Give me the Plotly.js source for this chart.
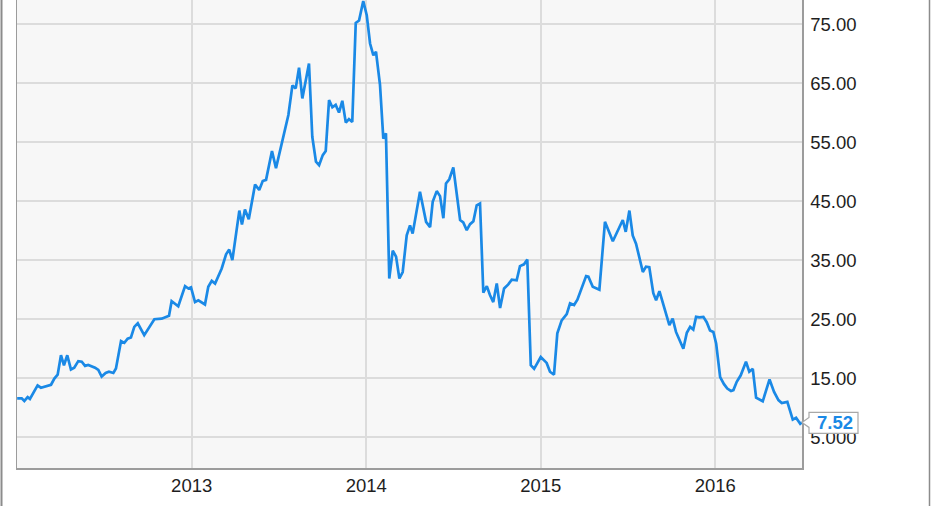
<!DOCTYPE html>
<html>
<head>
<meta charset="utf-8">
<script src="https://cdn.plot.ly/plotly-3.0.1.min.js"></script>
<style>html,body{margin:0;padding:0;background:#fff;}#chart{width:931px;height:506px;}</style>
</head>
<body>
<div id="chart"></div>
<script>
// Dates as decimal years, prices in USD
const dates = [
2012.000,2012.026,2012.041,2012.060,2012.073,2012.117,2012.136,2012.178,2012.194,2012.213,
2012.232,2012.251,2012.268,2012.287,2012.308,2012.327,2012.350,2012.370,2012.389,2012.407,
2012.446,2012.465,2012.484,2012.507,2012.526,2012.551,2012.566,2012.595,2012.614,2012.633,
2012.652,2012.671,2012.691,2012.728,2012.751,2012.786,2012.828,2012.857,2012.870,2012.885,
2012.923,2012.962,2012.981,2012.996,2013.019,2013.038,2013.076,2013.095,2013.115,2013.134,
2013.172,2013.197,2013.215,2013.233,2013.273,2013.288,2013.305,2013.327,2013.363,2013.387,
2013.407,2013.426,2013.460,2013.483,2013.516,2013.554,2013.577,2013.596,2013.615,2013.634,
2013.672,2013.691,2013.712,2013.730,2013.751,2013.768,2013.787,2013.806,2013.825,2013.844,
2013.863,2013.883,2013.901,2013.920,2013.940,2013.959,2013.983,2014.003,2014.022,2014.041,
2014.056,2014.079,2014.098,2014.113,2014.132,2014.152,2014.171,2014.190,2014.209,2014.232,
2014.251,2014.266,2014.308,2014.343,2014.366,2014.381,2014.404,2014.423,2014.442,2014.457,
2014.476,2014.499,2014.538,2014.556,2014.576,2014.595,2014.614,2014.633,2014.652,2014.671,
2014.691,2014.709,2014.728,2014.748,2014.767,2014.790,2014.814,2014.834,2014.862,2014.881,
2014.904,2014.923,2014.943,2014.962,2015.000,2015.034,2015.053,2015.076,2015.095,2015.120,
2015.149,2015.168,2015.191,2015.210,2015.260,2015.273,2015.298,2015.336,2015.368,2015.413,
2015.470,2015.487,2015.508,2015.527,2015.546,2015.585,2015.603,2015.622,2015.645,2015.661,
2015.680,2015.737,2015.756,2015.775,2015.817,2015.837,2015.856,2015.874,2015.890,2015.909,
2015.932,2015.951,2015.970,2015.989,2016.005,2016.028,2016.050,2016.069,2016.090,2016.104,
2016.123,2016.146,2016.176,2016.195,2016.215,2016.234,2016.272,2016.311,2016.337,2016.362,
2016.381,2016.413,2016.444,2016.463,2016.487,2016.497
];
const prices = [
11.6,11.6,11.15,11.8,11.5,13.8,13.4,13.7,13.9,14.95,
15.6,18.9,17.2,18.9,16.5,16.8,17.9,17.8,17.1,17.25,
16.8,16.4,15.3,15.9,16.1,15.9,16.65,21.3,21.0,21.7,
21.9,23.7,24.3,22.3,23.4,25.0,25.1,25.4,25.6,28.05,
27.2,30.6,30.2,30.4,27.9,28.2,27.5,30.5,31.5,31.05,
33.6,36.0,36.8,35.0,43.4,41.05,43.6,41.95,47.8,46.9,
48.4,48.6,53.5,50.6,54.8,59.6,64.6,64.1,67.6,62.4,
68.3,55.9,51.7,51.1,52.8,53.5,62.1,60.9,61.3,60.0,
62.0,58.3,58.9,58.4,75.2,75.6,78.9,76.5,71.7,69.7,
70.3,64.7,55.6,56.5,31.9,36.6,35.6,31.9,33.0,39.2,
40.9,39.5,46.6,41.5,40.6,44.9,46.7,45.85,42.1,48.0,
48.7,50.7,41.8,41.4,40.1,41.1,41.6,44.3,44.6,29.5,
30.6,29.1,27.9,31.05,26.9,30.2,30.9,31.7,31.6,34.0,
34.3,35.1,17.2,16.6,18.6,17.6,16.1,15.6,22.6,24.8,
25.85,27.7,27.4,28.3,32.3,32.2,30.5,30.0,41.5,38.2,
41.8,39.8,43.4,39.2,37.8,33.0,33.9,33.8,29.4,28.2,
29.75,24.0,25.1,22.85,20.0,22.7,23.7,23.25,25.4,25.3,
25.4,24.5,23.1,22.85,20.9,15.2,14.0,13.25,12.85,13.0,
14.4,15.5,17.8,16.1,16.6,11.7,11.1,14.8,12.7,11.3,
10.8,11.0,8.0,8.3,7.3,7.52
];
const xTickVals = [2013, 2014, 2015, 2016];
const xTickText = ['2013', '2014', '2015', '2016'];
const yTickVals = [5, 15, 25, 35, 45, 55, 65, 75];
const yTickText = ['5.000', '15.00', '25.00', '35.00', '45.00', '55.00', '65.00', '75.00'];

const lineColor = '#1a89e6';
const xRange = [2011.999, 2016.497];
const yRange = [-0.2, 79.07];
const lastVal = prices[prices.length - 1];
const lastFrac = (lastVal - yRange[0]) / (yRange[1] - yRange[0]);

const trace = {
  x: dates, y: prices, type: 'scatter', mode: 'lines',
  line: {color: lineColor, width: 2.7}, hoverinfo: 'none'
};

const layout = {
  width: 931, height: 506,
  margin: {l: 17, r: 129, t: 0, b: 38, pad: 0},
  paper_bgcolor: '#ffffff', plot_bgcolor: '#f7f7f7',
  showlegend: false,
  font: {family: '"Liberation Sans", Arial, sans-serif', color: '#1e1e1e', size: 18.5},
  xaxis: {
    type: 'linear', range: xRange, tickvals: xTickVals, ticktext: xTickText,
    showgrid: true, gridcolor: '#dcdcdc', gridwidth: 1.6, zeroline: false,
    showline: true, linecolor: '#9c9c9c', linewidth: 1.5, ticks: '',
    tickfont: {size: 18.5, color: '#1e1e1e'}, fixedrange: true
  },
  yaxis: {
    side: 'right', range: yRange, tickvals: yTickVals, ticktext: yTickText,
    showgrid: true, gridcolor: '#dcdcdc', gridwidth: 1.6, zeroline: false,
    showline: true, mirror: true, linecolor: '#9c9c9c', linewidth: 1.5, ticks: '',
    ticklabelstandoff: 3,
    tickfont: {size: 18.5, color: '#1e1e1e'}, fixedrange: true
  },
  shapes: [
    {type: 'line', xref: 'paper', yref: 'paper', xsizemode: 'pixel', xanchor: 0,
     x0: -15.5, x1: -15.5, y0: -0.2, y1: 1.2, line: {color: '#8c8c8c', width: 2}},
    {type: 'line', xref: 'paper', yref: 'paper', xsizemode: 'pixel', xanchor: 1,
     x0: 127.5, x1: 127.5, y0: -0.2, y1: 1.2, line: {color: '#8c8c8c', width: 1.5}},
    {type: 'path', xref: 'paper', yref: 'paper', xsizemode: 'pixel', ysizemode: 'pixel',
     xanchor: 1, yanchor: lastFrac,
     path: 'M 0 0 L 7 5 L 7 10 L 56 10 L 56 -11 L 7 -11 L 7 -5 Z',
     fillcolor: '#ffffff', line: {color: '#a8a8a8', width: 1.2}, layer: 'above'}
  ],
  annotations: [
    {xref: 'paper', yref: 'y', x: 1, y: lastVal, xanchor: 'center', yanchor: 'middle',
     xshift: 33, yshift: -0.5, showarrow: false, text: '<b>' + lastVal.toFixed(2) + '</b>',
     font: {size: 18.5, color: lineColor, family: '"Liberation Sans", Arial, sans-serif'}}
  ]
};

Plotly.newPlot('chart', [trace], layout, {displayModeBar: false, staticPlot: true});
</script>
</body>
</html>
